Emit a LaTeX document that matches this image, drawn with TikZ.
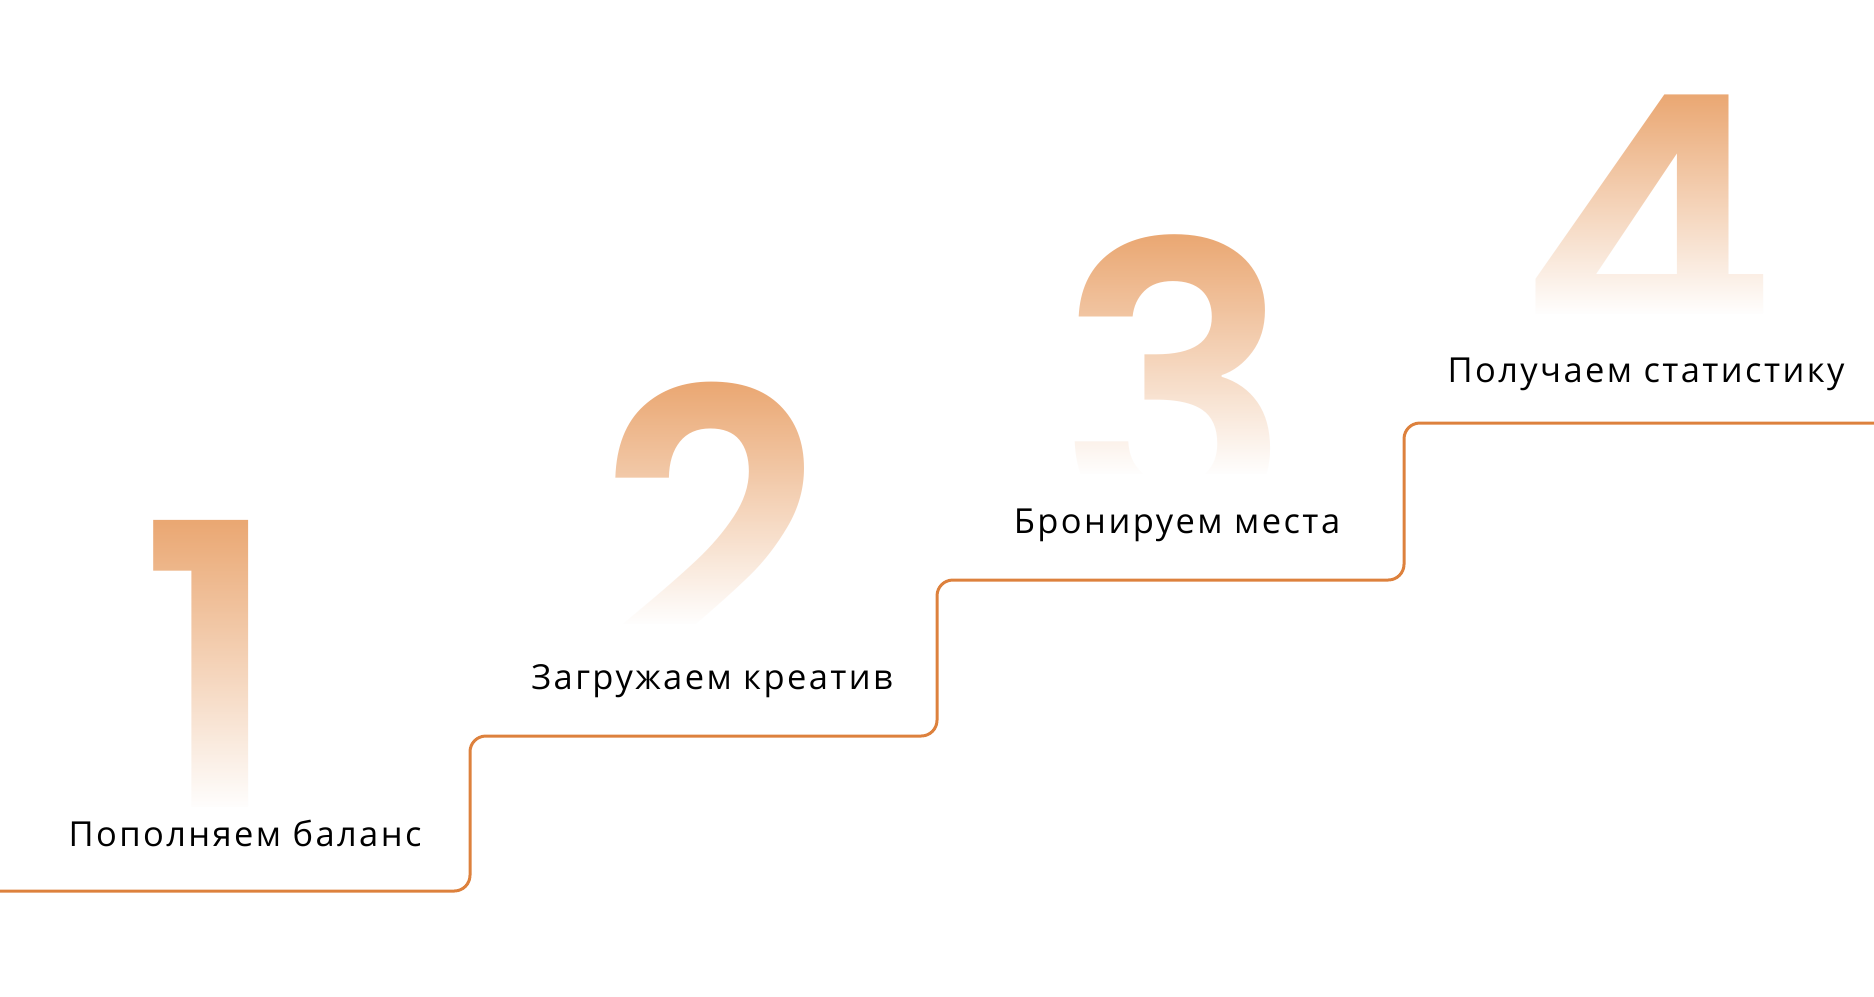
\documentclass[tikz,border=0pt]{standalone}
\usepackage{fontspec}
\setmainfont{Open Sans}[LetterSpace=7]
\newfontfamily\digitfont{Poppins SemiBold}
\usetikzlibrary{fadings}

\definecolor{stairline}{RGB}{221,129,61}
\definecolor{digitorange}{RGB}{234,166,112}
\tikzfading[name=fadedown, top color=transparent!100, bottom color=transparent!0]

\begin{document}
\begin{tikzpicture}[
  x=0.01cm, y=-0.01cm,
  every node/.style={inner sep=0pt, outer sep=0pt},
  bigdigit/.style={anchor=north, text=digitorange, font=\digitfont\fontsize{112}{112}\selectfont},
  steptext/.style={anchor=base, text=black, font=\fontsize{9.8}{12}\selectfont},
  stair/.style={draw=stairline, line width=0.85pt, rounded corners=4.5pt}
]
\useasboundingbox (0,0) rectangle (1874,996);

% Große Ziffern
\node[bigdigit] (n1) at (211,520) {1};
\node[bigdigit] (n2) at (712,382) {2};
\node[bigdigit] (n3) at (1175,235) {3};
\node[bigdigit] (n4) at (1648,95) {4};

% Verblassen nach unten
\fill[white, path fading=fadedown] (90,515) rectangle (340,810);
\fill[white] (90,809) rectangle (340,840);
\fill[white, path fading=fadedown] (560,378) rectangle (860,625);
\fill[white] (560,624) rectangle (860,700);
\fill[white, path fading=fadedown] (1030,230) rectangle (1320,475);
\fill[white] (1030,474) rectangle (1320,560);
\fill[white, path fading=fadedown] (1500,90) rectangle (1800,315);
\fill[white] (1500,314) rectangle (1800,410);

% Treppe
\coordinate (s0) at (0,891);
\coordinate (s1) at (470,891);
\coordinate (s2) at (470,736);
\coordinate (s3) at (937,736);
\coordinate (s4) at (937,580);
\coordinate (s5) at (1404,580);
\coordinate (s6) at (1404,423);
\coordinate (s7) at (1874,423);
\draw[stair] (s0) -- (s1) -- (s2) -- (s3) -- (s4) -- (s5) -- (s6) -- (s7);

% Beschriftungen
\node[steptext] (t1) at (245,846) {Пополняем баланс};
\node[steptext] (t2) at (712,689) {Загружаем креатив};
\node[steptext] (t3) at (1177,533) {Бронируем места};
\node[steptext] (t4) at (1646,382) {Получаем статистику};
\end{tikzpicture}
\end{document}
